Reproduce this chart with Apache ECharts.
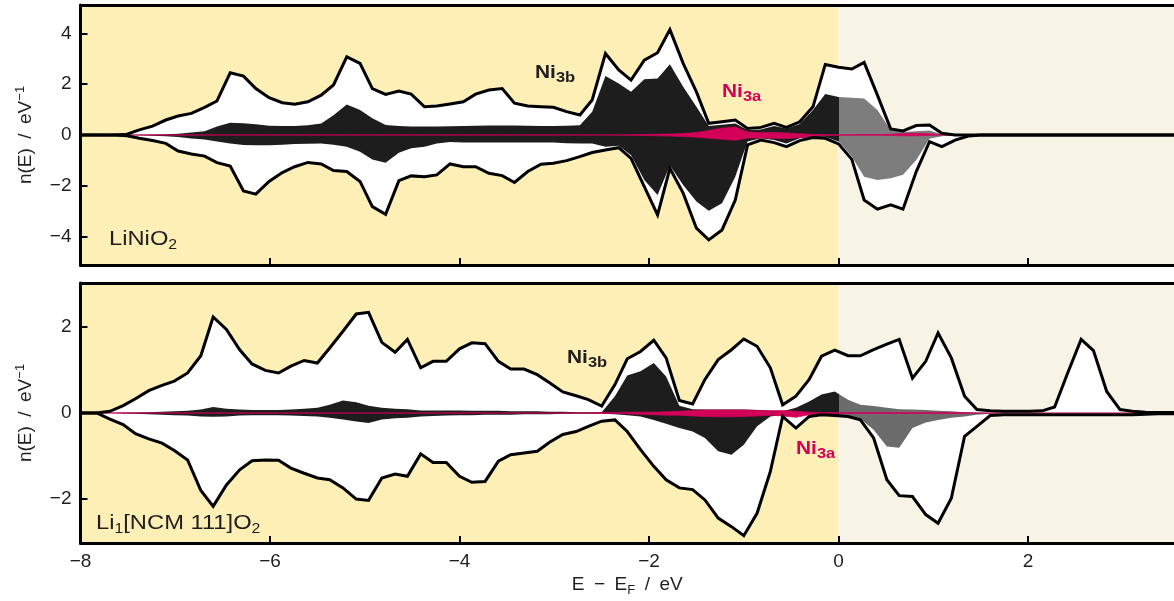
<!DOCTYPE html>
<html>
<head>
<meta charset="utf-8">
<script src="https://cdn.jsdelivr.net/npm/echarts@6/dist/echarts.min.js"></script>
<style>
  html, body { margin: 0; padding: 0; background: #fff; }
  #chart { width: 1174px; height: 601px; }
</style>
</head>
<body>
<div id="chart"></div>
<script>
// ---- LiNiO2 (top panel) ----
const eTop = [
  -8, -7.65, -7.51, -7.38, -7.24, -7.10, -6.97, -6.83, -6.69, -6.56,
  -6.42, -6.28, -6.15, -6.01, -5.87, -5.74, -5.60, -5.46, -5.33, -5.19,
  -5.05, -4.92, -4.78, -4.64, -4.51, -4.37, -4.24, -4.10, -3.96, -3.83,
  -3.69, -3.55, -3.42, -3.28, -3.14, -3.01, -2.87, -2.73, -2.60, -2.46,
  -2.32, -2.19, -2.05, -1.91, -1.78, -1.64, -1.50, -1.37, -1.23, -1.09,
  -0.96, -0.82, -0.68, -0.55, -0.41, -0.27, -0.14, 0, 0.14, 0.27,
  0.41, 0.55, 0.68, 0.82, 0.96, 1.09, 1.23, 1.37, 1.50, 3.54
]
const totalUpTop = [
  0, 0, 0.03, 0.2, 0.35, 0.59, 0.75, 0.85, 1.09, 1.34,
  2.45, 2.32, 1.83, 1.47, 1.27, 1.21, 1.31, 1.57, 1.97, 3.08,
  2.82, 1.83, 1.6, 1.73, 1.61, 1.11, 1.14, 1.22, 1.31, 1.61,
  1.77, 1.83, 1.25, 1.14, 1.11, 1.09, 0.92, 0.79, 1.38, 3.21,
  2.56, 2.16, 2.95, 3.24, 4.15, 2.82, 1.7, 0.46, 0.52, 0.59,
  0.26, 0.3, 0.46, 0.3, 0.52, 1.11, 2.78, 2.67, 2.6, 2.86,
  1.57, 0.24, 0.16, 0.37, 0.39, 0.07, 0, 0, 0, 0
]
const totalDnTop = [
  0, 0, -0.03, -0.13, -0.22, -0.33, -0.63, -0.75, -0.83, -1.09,
  -1.22, -2.2, -2.33, -1.83, -1.48, -1.25, -1.08, -1.14, -1.4, -1.44,
  -1.83, -2.82, -3.12, -1.8, -1.61, -1.64, -1.57, -1.14, -1.25, -1.25,
  -1.51, -1.6, -1.87, -1.44, -1.15, -1.11, -1.01, -0.85, -0.69, -0.59,
  -0.5, -0.92, -2.03, -3.15, -1.31, -2.29, -3.67, -4.13, -3.74, -2.56,
  -0.39, -0.2, -0.3, -0.46, -0.22, -0.1, -0.13, -0.35, -0.96, -2.56,
  -2.92, -2.75, -2.92, -1.44, -0.26, -0.46, -0.2, -0.04, 0, 0
]
const ni3bUpTop = [
  0, 0, 0, 0.01, 0.02, 0.03, 0.05, 0.1, 0.15, 0.33,
  0.48, 0.46, 0.42, 0.36, 0.35, 0.35, 0.38, 0.45, 0.78, 1.2,
  0.98, 0.66, 0.39, 0.35, 0.33, 0.33, 0.33, 0.34, 0.35, 0.36,
  0.37, 0.37, 0.37, 0.36, 0.35, 0.35, 0.36, 0.38, 0.92, 2.32,
  2.03, 1.7, 2.2, 2.23, 2.79, 1.9, 1.11, 0.35, 0.4, 0.45,
  0.2, 0.22, 0.35, 0.26, 0.43, 0.98, 1.61, 1.5, 1.47, 1.44,
  0.98, 0.2, 0.12, 0.15, 0.18, 0.03, 0, 0, 0, 0
]
const ni3bDnTop = [
  0, 0, 0, -0.01, -0.03, -0.05, -0.08, -0.14, -0.18, -0.26,
  -0.33, -0.39, -0.4, -0.4, -0.38, -0.35, -0.34, -0.33, -0.38, -0.46,
  -0.66, -0.96, -1.09, -0.7, -0.52, -0.46, -0.33, -0.28, -0.3, -0.3,
  -0.3, -0.3, -0.3, -0.3, -0.3, -0.3, -0.32, -0.33, -0.33, -0.46,
  -0.42, -0.8, -1.77, -2.36, -1.2, -1.97, -2.62, -2.98, -2.69, -1.64,
  -0.26, -0.13, -0.2, -0.33, -0.13, -0.07, -0.07, -0.26, -0.85, -1.64,
  -1.77, -1.7, -1.57, -0.98, -0.15, -0.05, 0, 0, 0, 0
]
const ni3aUpTop = [
  0, 0, 0, 0, 0, 0, 0, 0, 0, 0,
  0, 0, 0, 0, 0, 0, 0, 0, 0, 0,
  0, 0, 0, 0, 0, 0, 0, 0, 0, 0,
  0, 0, 0, 0, 0, 0, 0, 0, 0, 0,
  0, 0.01, 0.02, 0.03, 0.04, 0.06, 0.1, 0.18, 0.27, 0.32,
  0.12, 0.1, 0.1, 0.08, 0.05, 0.02, 0.01, 0.01, 0.01, 0.02,
  0.02, 0.03, 0.06, 0.07, 0.05, 0.01, 0, 0, 0, 0
]
const ni3aDnTop = [
  0, 0, 0, 0, 0, 0, 0, 0, 0, 0,
  0, 0, 0, 0, 0, 0, 0, 0, 0, 0,
  0, 0, 0, 0, 0, 0, 0, 0, 0, 0,
  0, 0, 0, 0, 0, 0, 0, 0, 0, 0,
  0, -0.01, -0.02, -0.03, -0.04, -0.06, -0.09, -0.13, -0.17, -0.21,
  -0.12, -0.12, -0.13, -0.14, -0.1, -0.05, -0.02, -0.01, -0.01, -0.01,
  -0.01, -0.02, -0.03, -0.03, -0.02, 0, 0, 0, 0, 0
]

// ---- Li1[NCM 111]O2 (bottom panel) ----
const eBot = [
  -8, -7.83, -7.69, -7.55, -7.42, -7.28, -7.14, -7.01, -6.87, -6.73,
  -6.60, -6.46, -6.32, -6.19, -6.05, -5.91, -5.78, -5.64, -5.50, -5.37,
  -5.23, -5.09, -4.96, -4.82, -4.68, -4.55, -4.41, -4.28, -4.14, -4.00,
  -3.87, -3.73, -3.59, -3.46, -3.32, -3.18, -3.05, -2.91, -2.77, -2.64,
  -2.50, -2.36, -2.23, -2.09, -1.95, -1.82, -1.68, -1.54, -1.41, -1.27,
  -1.13, -1.00, -0.86, -0.72, -0.59, -0.45, -0.31, -0.18, -0.04, 0.10,
  0.23, 0.37, 0.51, 0.64, 0.78, 0.92, 1.05, 1.19, 1.33, 1.46,
  1.60, 1.74, 1.87, 2.01, 2.15, 2.28, 2.42, 2.56, 2.69, 2.83,
  2.97, 3.10, 3.24, 3.37, 3.54
]
const totalUpBot = [
  0, 0, 0.04, 0.17, 0.33, 0.52, 0.64, 0.74, 0.93, 1.33,
  2.23, 1.94, 1.47, 1.14, 0.99, 0.93, 1.09, 1.22, 1.16, 1.51,
  1.9, 2.3, 2.34, 1.64, 1.41, 1.71, 1.05, 1.2, 1.2, 1.49,
  1.63, 1.61, 1.2, 1.02, 1.02, 0.89, 0.7, 0.49, 0.4, 0.31,
  0.16, 0.66, 1.26, 1.43, 1.69, 1.28, 0.29, 0.21, 0.78, 1.24,
  1.47, 1.72, 1.55, 1.05, 0.19, 0.39, 0.78, 1.32, 1.46, 1.33,
  1.33, 1.47, 1.6, 1.71, 0.81, 1.2, 1.86, 1.28, 0.39, 0.08,
  0.05, 0.04, 0.04, 0.04, 0.05, 0.14, 0.94, 1.71, 1.45, 0.5,
  0.08, 0.04, 0.02, 0.01, 0.01
]
const totalDnBot = [
  0, 0, -0.14, -0.27, -0.48, -0.6, -0.7, -0.87, -1.09, -1.8,
  -2.17, -1.67, -1.32, -1.11, -1.09, -1.1, -1.28, -1.4, -1.51, -1.55,
  -1.74, -2.0, -2.03, -1.51, -1.42, -1.47, -0.95, -1.15, -1.15, -1.47,
  -1.61, -1.59, -1.12, -0.97, -0.93, -0.89, -0.68, -0.5, -0.43, -0.31,
  -0.19, -0.16, -0.43, -0.85, -1.24, -1.55, -1.74, -1.78, -2.02, -2.44,
  -2.64, -2.85, -2.33, -1.36, -0.08, -0.35, -0.08, -0.04, -0.06, -0.08,
  -0.16, -0.58, -1.55, -1.92, -1.94, -2.36, -2.56, -1.98, -0.54, -0.31,
  -0.06, -0.04, -0.04, -0.04, -0.04, -0.04, -0.04, -0.04, -0.04, -0.04,
  -0.04, -0.04, -0.03, -0.02, -0.02
]
const ni3bUpBot = [
  0, 0, 0, 0.01, 0.01, 0.02, 0.03, 0.04, 0.05, 0.08,
  0.14, 0.1, 0.08, 0.07, 0.07, 0.07, 0.08, 0.1, 0.12, 0.19,
  0.29, 0.25, 0.17, 0.12, 0.1, 0.09, 0.06, 0.06, 0.06, 0.06,
  0.05, 0.05, 0.05, 0.04, 0.04, 0.04, 0.03, 0.03, 0.02, 0.02,
  0.02, 0.39, 0.87, 0.97, 1.16, 0.85, 0.17, 0.09, 0.08, 0.08,
  0.08, 0.08, 0.07, 0.06, 0.04, 0.12, 0.27, 0.43, 0.5, 0.31,
  0.19, 0.16, 0.12, 0.09, 0.08, 0.07, 0.05, 0.04, 0.02, 0.01,
  0, 0, 0, 0, 0, 0, 0, 0, 0, 0,
  0, 0, 0, 0, 0
]
const ni3bDnBot = [
  0, 0, 0, -0.01, -0.02, -0.03, -0.04, -0.05, -0.06, -0.08,
  -0.09, -0.08, -0.06, -0.05, -0.05, -0.05, -0.06, -0.07, -0.08, -0.11,
  -0.15, -0.2, -0.23, -0.15, -0.12, -0.11, -0.08, -0.07, -0.06, -0.05,
  -0.05, -0.04, -0.04, -0.04, -0.03, -0.03, -0.03, -0.02, -0.02, -0.02,
  -0.02, -0.03, -0.05, -0.08, -0.16, -0.25, -0.35, -0.43, -0.58, -0.89,
  -0.97, -0.74, -0.31, -0.08, -0.04, -0.05, -0.03, -0.02, -0.04, -0.09,
  -0.14, -0.39, -0.78, -0.81, -0.35, -0.22, -0.16, -0.11, -0.08, -0.04,
  -0.02, 0, 0, 0, 0, 0, 0, 0, 0, 0,
  0, 0, 0, 0, 0
]
const ni3aUpBot = [
  0, 0, 0, 0, 0, 0, 0, 0, 0, 0,
  0, 0, 0, 0, 0, 0, 0, 0, 0, 0,
  0, 0, 0, 0, 0, 0, 0, 0, 0, 0,
  0, 0, 0, 0, 0, 0, 0, 0, 0, 0,
  0.01, 0.01, 0.02, 0.02, 0.02, 0.03, 0.04, 0.06, 0.07, 0.07,
  0.07, 0.07, 0.06, 0.05, 0.06, 0.04, 0.02, 0.01, 0.01, 0.01,
  0.01, 0.01, 0.01, 0.01, 0.01, 0.01, 0.01, 0.01, 0.01, 0,
  0, 0, 0, 0, 0, 0, 0, 0, 0, 0,
  0, 0, 0, 0, 0
]
const ni3aDnBot = [
  0, 0, 0, 0, 0, 0, 0, 0, 0, 0,
  0, 0, 0, 0, 0, 0, 0, 0, 0, 0,
  0, 0, 0, 0, 0, 0, 0, 0, 0, 0,
  0, 0, 0, 0, 0, 0, 0, 0, 0, 0,
  -0.01, -0.01, -0.02, -0.03, -0.04, -0.05, -0.05, -0.07, -0.08, -0.09,
  -0.09, -0.08, -0.07, -0.05, -0.07, -0.1, -0.04, -0.02, -0.01, -0.01,
  -0.01, -0.01, -0.01, -0.01, -0.01, -0.01, -0.01, -0.01, -0.01, 0,
  0, 0, 0, 0, 0, 0, 0, 0, 0, 0,
  0, 0, 0, 0, 0
]

// axis settings
const xMin = -8
const xMax = 3.54
const xTicks = [-8, -6, -4, -2, 0, 2]
const yRangeTop = [-5.12, 5.12]
const yTicksTop = [-4, -2, 0, 2, 4]
const yRangeBot = [-3.02, 3.02]
const yTicksBot = [-2, 0, 2]
const occupied = [xMin, 0]
const unoccupied = [0, xMax]

const FONT = 'Liberation Sans'
const INK = '#1f1f1f'
const CRIMSON = '#d3005a'
const minus = (v) => String(v).replace('-', '\u2212')

const pts = (e, v) => e.map((x, i) => [x, v[i]])

function xAxes(grid, labels) {
  return [
    {
      type: 'value', gridIndex: grid, min: xMin, max: xMax, position: 'bottom', z: 10,
      axisLine: { onZero: false, lineStyle: { color: '#000', width: 3 } },
      axisTick: { inside: true, length: 7, customValues: xTicks, lineStyle: { color: '#000', width: 2 } },
      axisLabel: { show: labels, customValues: xTicks, formatter: minus, margin: 9,
        fontFamily: FONT, fontSize: 19, color: INK },
      splitLine: { show: false },
      name: labels ? '{n|E\u2002\u2212\u2002E}{s|F}{n|\u2002/\u2002eV}' : '',
      nameLocation: 'middle', nameGap: 30,
      nameTextStyle: {
        rich: {
          n: { fontFamily: FONT, fontSize: 19, color: INK, lineHeight: 24, verticalAlign: 'middle' },
          s: { fontFamily: FONT, fontSize: 13, color: INK, lineHeight: 13, verticalAlign: 'bottom' },
        },
      },
    },
    {
      type: 'value', gridIndex: grid, min: xMin, max: xMax, position: 'top', z: 10,
      axisLine: { onZero: false, lineStyle: { color: '#000', width: 3 } },
      axisTick: { show: false }, axisLabel: { show: false }, splitLine: { show: false },
    },
  ]
}

function yAxis(grid, range, ticks) {
  return {
    type: 'value', gridIndex: grid, min: range[0], max: range[1], z: 10,
    axisLine: { show: true, onZero: false, lineStyle: { color: '#000', width: 3 } },
    axisTick: { show: true, inside: true, length: 7, customValues: ticks, lineStyle: { color: '#000', width: 2 } },
    axisLabel: { customValues: ticks, formatter: minus, margin: 9, fontFamily: FONT, fontSize: 19, color: INK },
    splitLine: { show: false },
    name: '{n|n(E)\u2002/\u2002eV}{s|\u22121}',
    nameLocation: 'middle', nameGap: 43,
    nameTextStyle: {
      rich: {
        n: { fontFamily: FONT, fontSize: 19, color: INK, lineHeight: 24, verticalAlign: 'middle' },
        s: { fontFamily: FONT, fontSize: 13, color: INK, lineHeight: 13, verticalAlign: 'top' },
      },
    },
  }
}

const series = []
const ni3bIdx = [[], []]

function panel(g, e, tUp, tDn, bUp, bDn, aUp, aDn) {
  const xi = g * 2
  const base = { type: 'line', xAxisIndex: xi, yAxisIndex: g, symbol: 'none', silent: true }
  // background: occupied / unoccupied states
  series.push({
    ...base, z: 1, data: [],
    markArea: {
      silent: true,
      data: [
        [{ xAxis: occupied[0], itemStyle: { color: '#fdefb6' } }, { xAxis: occupied[1] }],
        [{ xAxis: unoccupied[0], itemStyle: { color: '#f7f3e5' } }, { xAxis: unoccupied[1] }],
      ],
    },
  })
  // total DOS, white fill
  ;[tUp, tDn].forEach((v) => series.push({
    ...base, z: 2, data: pts(e, v),
    lineStyle: { width: 0 }, areaStyle: { color: '#ffffff', opacity: 1 },
  }))
  // Ni 3b, black below E_F and grey above (visualMap)
  ;[bUp, bDn].forEach((v) => {
    ni3bIdx[g].push(series.length)
    series.push({ ...base, z: 3, data: pts(e, v), lineStyle: { width: 0 }, areaStyle: { opacity: 1 } })
  })
  // Ni 3a, crimson
  ;[aUp, aDn].forEach((v) => series.push({
    ...base, z: 4, data: pts(e, v),
    lineStyle: { width: 0.7, color: CRIMSON }, areaStyle: { color: CRIMSON, opacity: 1 },
  }))
  // total DOS outline on top
  ;[tUp, tDn].forEach((v) => series.push({
    ...base, z: 5, data: pts(e, v),
    lineStyle: { width: 3, color: '#000', join: 'miter' },
  }))
}

panel(0, eTop, totalUpTop, totalDnTop, ni3bUpTop, ni3bDnTop, ni3aUpTop, ni3aDnTop)
panel(1, eBot, totalUpBot, totalDnBot, ni3bUpBot, ni3bDnBot, ni3aUpBot, ni3aDnBot)

// text placed by its top-left corner, widened a little to match the figure's lettering
function label(x, y, main, sub, color) {
  return {
    type: 'text', x, y, scaleX: 1.1, silent: true, z: 20,
    style: {
      text: '{b|' + main + '}{s|' + sub + '}',
      rich: {
        b: { fontFamily: FONT, fontSize: 19, fontWeight: 'bold', fill: color, lineHeight: 24, verticalAlign: 'middle' },
        s: { fontFamily: FONT, fontSize: 15, fontWeight: 'bold', fill: color, lineHeight: 15, verticalAlign: 'bottom' },
      },
    },
  }
}

function formula(x, y, parts) {
  // parts: [text, isSub]
  return {
    type: 'text', x, y, scaleX: 1.13, silent: true, z: 20,
    style: {
      text: parts.map((p) => (p[1] ? '{s|' : '{b|') + p[0] + '}').join(''),
      rich: {
        b: { fontFamily: FONT, fontSize: 21, fill: INK, lineHeight: 26, verticalAlign: 'middle' },
        s: { fontFamily: FONT, fontSize: 14, fill: INK, lineHeight: 14, verticalAlign: 'bottom' },
      },
    },
  }
}

const chart = echarts.init(document.getElementById('chart'), null, { renderer: 'canvas' })
chart.setOption({
  animation: false,
  backgroundColor: '#ffffff',
  grid: [
    { left: 80.5, right: -3, top: 5, height: 260 },
    { left: 80.5, right: -3, top: 283, height: 260 },
  ],
  xAxis: [...xAxes(0, false), ...xAxes(1, true)],
  yAxis: [yAxis(0, yRangeTop, yTicksTop), yAxis(1, yRangeBot, yTicksBot)],
  visualMap: [
    { type: 'piecewise', show: false, dimension: 0, seriesIndex: ni3bIdx[0],
      pieces: [{ min: -8.5, max: 0, color: '#1d1d1d' }, { min: 0, max: 4, color: '#7d7d7d' }] },
    { type: 'piecewise', show: false, dimension: 0, seriesIndex: ni3bIdx[1],
      pieces: [{ min: -8.5, max: 0, color: '#1d1d1d' }, { min: 0, max: 4, color: '#6c6c6c' }] },
  ],
  series,
  graphic: [
    label(535, 61, 'Ni', '3b', INK),
    label(722, 80, 'Ni', '3a', CRIMSON),
    label(567, 346, 'Ni', '3b', INK),
    label(796, 437, 'Ni', '3a', CRIMSON),
    formula(109, 226, [['LiNiO', false], ['2', true]]),
    formula(96, 510, [['Li', false], ['1', true], ['[NCM 111]O', false], ['2', true]]),
  ],
})
</script>
</body>
</html>
